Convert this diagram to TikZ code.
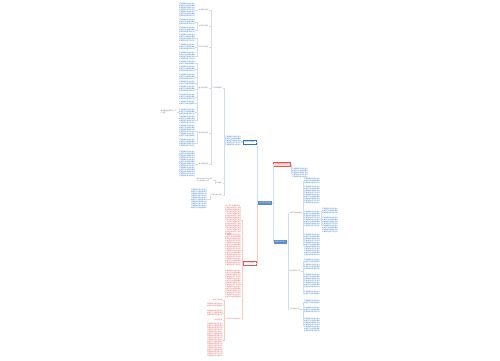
\documentclass[tikz,border=0pt]{standalone}
\usepackage{fontspec}
\setmainfont{Noto Sans CJK SC}
\XeTeXlinebreaklocale "zh"
\XeTeXlinebreakskip=0pt plus 0.5pt
\definecolor{tblue}{HTML}{2F74C0}
\definecolor{tred}{HTML}{E05555}
\definecolor{tgray}{HTML}{777777}
\definecolor{rootblue}{HTML}{5B8CC4}
\definecolor{lnblue}{HTML}{D3DCE8}
\definecolor{lnred}{HTML}{F4CACA}
\definecolor{pinkfill}{HTML}{F8D5D5}
\newcommand\fs{\fontsize{1.55}{2}\selectfont}
\newcommand\fsb{\fontsize{1.6}{2}\selectfont}
\newcommand\zhline[1]{\ifcase#1 认真落实各项工作任务\or 不断提高自身业务能力\or 加强学习总结经验教训\or 全面完成年度目标计划\fi}
\newcommand\zhtext[1]{\foreach \k in {1,...,#1}{\pgfmathtruncatemacro\m{mod(\k,4)}\zhline{\m}}}
\newcommand\rcon[4][ln]{\coordinate (vx) at (#3,0);\foreach \c in {#4}{\draw[#1] (#2.east) -- (#2.east -| vx) |- (\c.west);}}
\newcommand\lcon[4][ln]{\coordinate (vx) at (#3,0);\foreach \c in {#4}{\draw[#1] (#2.west) -- (#2.west -| vx) |- (\c.east);}}
\tikzset{
  blk/.style={anchor=north west, inner sep=0pt, text width=15.8pt, align=left, font=\fs, text=tblue},
  rblk/.style={blk, text=tred},
  lab/.style={inner sep=0.3pt, font=\fs, text=tgray},
  rootbox/.style={fill=rootblue, text=white, minimum width=14pt, minimum height=4pt, inner sep=0.3pt, font=\fsb},
  pinkbox/.style={fill=pinkfill, draw=tred, line width=0.2pt, text=tred, minimum width=17pt, minimum height=3.5pt, inner sep=0.3pt, font=\fs},
  abox/.style={draw=tblue, line width=0.2pt, fill=white, text=tblue, minimum width=13pt, minimum height=3.5pt, inner sep=0.3pt, font=\fs},
  cbox/.style={draw=tred, line width=0.2pt, fill=white, text=tred, minimum width=13pt, minimum height=3.5pt, inner sep=0.3pt, font=\fs},
  ln/.style={draw=lnblue, line width=0.25pt},
  lnr/.style={draw=lnred, line width=0.25pt}
}
\begin{document}
\begin{tikzpicture}[x=1pt,y=-1pt]
\useasboundingbox[fill=white] (0,0) rectangle (500,360);
% root
\node[rootbox] (R) at (265,203) {2020年工作总结};
% ---------- right side
\node[pinkbox] (B1) at (282,164.3) {工作中存在的不足};
\node[blk] (B1c) at (292,168) {\zhtext{5}};
\node[rootbox, minimum width=13pt] (B3) at (280,241.5) {明年工作计划};
\node[lab, anchor=west] (L1) at (289,213) {主要工作完成情况};
\node[lab, anchor=west] (L2) at (289,271) {存在问题与不足};
\node[lab, anchor=west] (L3) at (289,309) {下步工作打算};
\node[blk] (r1) at (304,178) {\zhtext{3}};
\node[blk] (r2) at (304,186) {\zhtext{9}};
\node[blk] (r3) at (304,211) {\zhtext{8}};
\node[blk] (r4) at (304,234) {\zhtext{11}};
\node[blk] (r3a) at (322,208) {\zhtext{3}};
\node[blk] (r3b) at (322,217) {\zhtext{8}};
\node[blk] (s1) at (304,259) {\zhtext{2}};
\node[blk] (s2) at (304,264) {\zhtext{3}};
\node[blk] (s3) at (304,274) {\zhtext{7}};
\node[blk] (s4) at (304,291) {\zhtext{2}};
\node[blk] (t1) at (304,300) {\zhtext{2}};
\node[blk] (t2) at (304,307) {\zhtext{3}};
\node[blk] (t3) at (304,318) {\zhtext{7}};
% ---------- left upper
\node[abox] (A) at (249.5,142) {年度工作总结};
\node[blk] (Ab) at (225,136) {\zhtext{5}};
\node[lab, anchor=east] (La) at (222.5,88) {工作开展情况};
\node[lab, anchor=east] (Lb) at (222.5,183) {工作体会};
\node[lab, anchor=east] (Lc) at (222.5,195) {今后的努力方向};
\node[lab, anchor=north east, text width=15.8pt, align=left] (Lbc) at (213,178) {深刻认识到工作中的不足之处和努力方向};
\node[blk, anchor=north east] (Lcc) at (207,189) {\zhtext{10}};
\node[lab, anchor=east] (G1) at (208.5,10) {思想政治方面};
\node[lab, anchor=east] (G2) at (208.5,26) {业务学习方面};
\node[lab, anchor=east] (G3) at (208.5,47) {日常工作方面};
\node[lab, anchor=east] (G4) at (208.5,88) {重点任务落实};
\node[lab, anchor=east] (G5) at (208.5,133) {团队协作方面};
\node[lab, anchor=east] (G6) at (208.5,164) {廉洁自律方面};
\node[blk] (g11) at (179,3) {\zhtext{7}};
\node[blk] (g21) at (179,19) {\zhtext{3}};
\node[blk] (g22) at (179,27) {\zhtext{3}};
\node[blk] (g31) at (179,34) {\zhtext{4}};
\node[blk] (g32) at (179,44) {\zhtext{3}};
\node[blk] (g33) at (179,52) {\zhtext{4}};
\node[blk] (g41) at (179,61) {\zhtext{2}};
\node[blk] (g42) at (179,66) {\zhtext{3}};
\node[blk] (g43) at (179,74) {\zhtext{3}};
\node[blk] (g44) at (179,81) {\zhtext{2}};
\node[blk] (g45) at (179,86) {\zhtext{3}};
\node[blk] (g46) at (179,94) {\zhtext{3}};
\node[blk] (g47) at (179,101) {\zhtext{2}};
\node[blk] (g48) at (179,109) {\zhtext{3}};
\node[blk] (g49) at (179,116) {\zhtext{4}};
\node[blk] (g51) at (179,125) {\zhtext{6}};
\node[blk] (g52) at (179,139) {\zhtext{4}};
\node[blk] (g61) at (179,151) {\zhtext{13}};
\node[lab, anchor=north east, text width=15.8pt, align=left] (LL) at (177,110) {具体措施主要有以下几个方面};
% ---------- left lower (red)
\node[cbox] (C) at (249.5,263) {个人工作总结};
\node[rblk] (c1) at (225,205) {2020年\zhtext{14}};
\node[rblk] (c2) at (225,234) {\zhtext{16}};
\node[rblk] (c3) at (225,270) {\zhtext{14}};
\node[lab, anchor=west, text=tred] (Cl) at (225,319) {个人年终工作总结范文};
\node[lab, anchor=east, text=tred] (cl1) at (223,300) {相关工作总结};
\node[rblk, anchor=north east] (cl2) at (223,303) {\zhtext{2}};
\node[rblk, anchor=north east] (cl3) at (223,310) {\zhtext{3}};
\node[lab, anchor=east, text=tred] (cl4) at (223,320) {工作总结范文};
\node[rblk, anchor=north east] (cl5) at (223,323) {\zhtext{17}};
% ---------- connectors
\lcon{R}{257}{A}
\lcon[lnr]{R}{257}{C}
\rcon{R}{272.8}{B1,B3}
\rcon{B1}{291.2}{B1c}
\rcon{B3}{287.8}{L1,L2,L3}
\rcon{L1}{302.8}{r1,r2,r3,r4}
\rcon{r3}{320.8}{r3a,r3b}
\rcon{L2}{302.8}{s1,s2,s3,s4}
\rcon{L3}{302.8}{t1,t2,t3}
\lcon{A}{242}{Ab}
\lcon{Ab}{223.8}{La,Lb,Lc}
\lcon{Lb}{214.8}{Lbc}
\lcon{Lc}{210}{Lcc}
\lcon{La}{210.8}{G1,G2,G3,G4,G5,G6}
\lcon{G1}{197}{g11}
\lcon{G2}{197}{g21,g22}
\lcon{G3}{197}{g31,g32,g33}
\lcon{G4}{197}{g41,g42,g43,g44,g45,g46,g47,g48,g49}
\lcon{G5}{197}{g51,g52}
\lcon{G6}{197}{g61}
\lcon{g48}{178}{LL}
\lcon[lnr]{C}{242}{c1,c2,c3,Cl}
\lcon[lnr]{Cl}{224}{cl1,cl2,cl3,cl4,cl5}
\end{tikzpicture}
\end{document}
